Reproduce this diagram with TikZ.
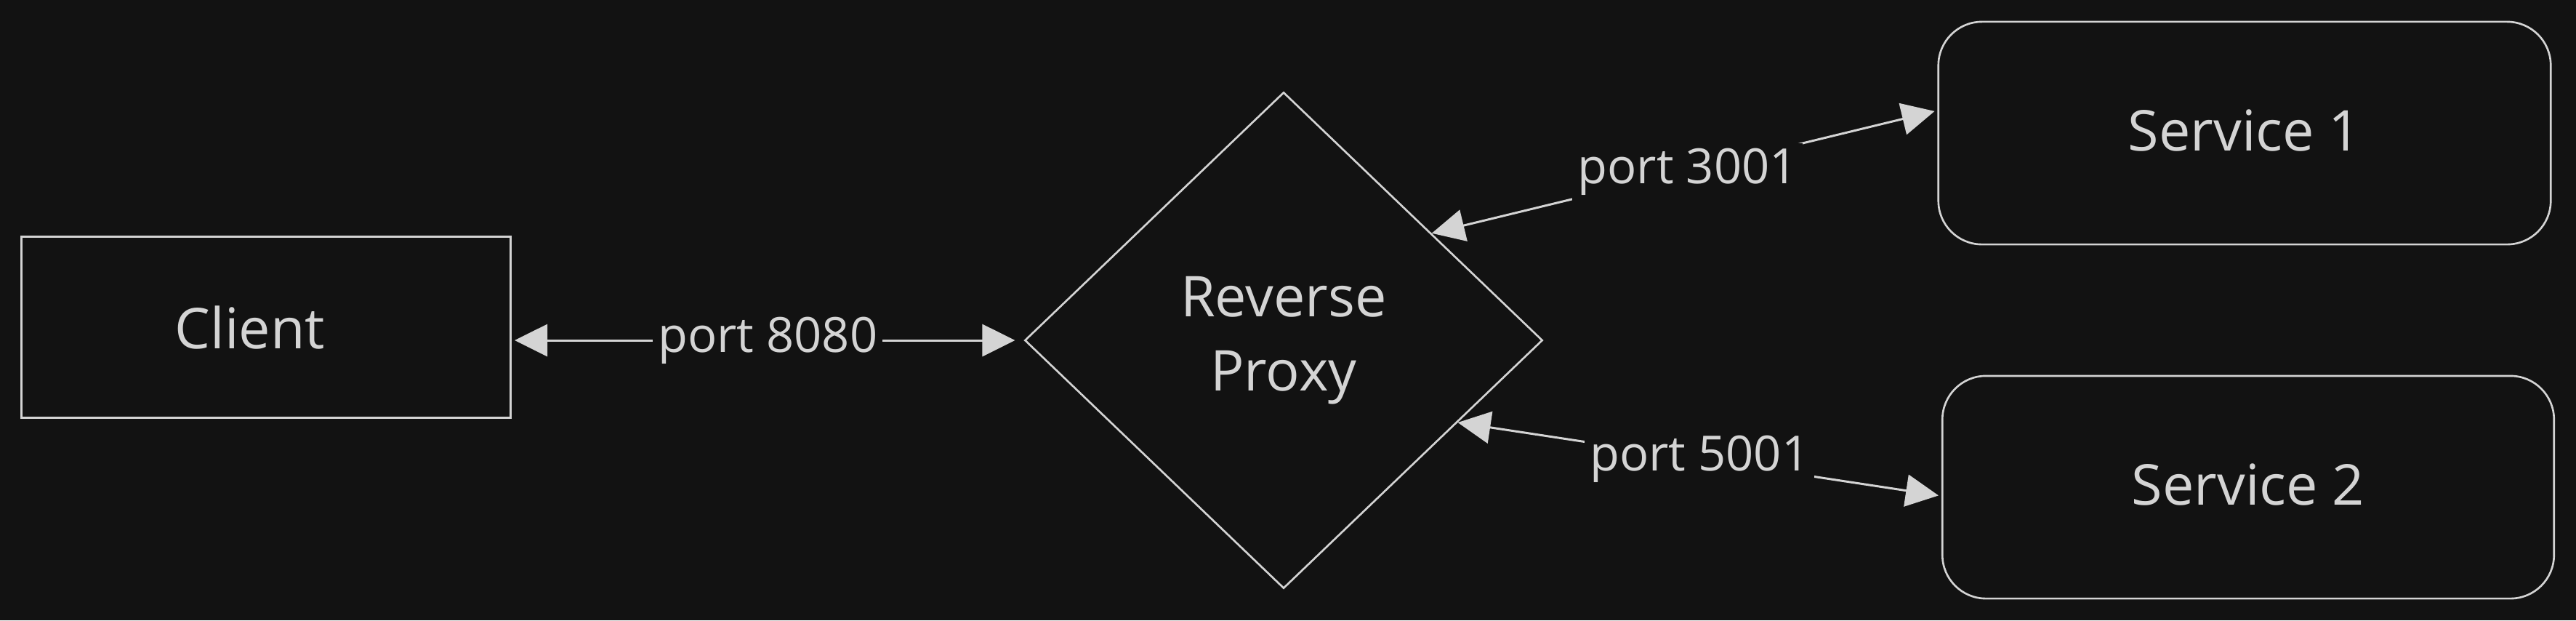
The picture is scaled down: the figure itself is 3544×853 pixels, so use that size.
\documentclass[tikz,border=0pt]{standalone}
\usepackage{fontspec}
\setmainfont{Open Sans}
\usetikzlibrary{shapes.geometric,arrows.meta,calc}
\definecolor{bg}{HTML}{121212}
\definecolor{ink}{HTML}{D4D4D4}
\begin{document}
\begin{tikzpicture}[x=0.01cm,y=-0.01cm,
  shapebox/.style={draw=ink,line width=0.75pt,text=ink,font=\fontsize{22}{29}\selectfont,inner sep=0pt,align=center},
  conn/.style={draw=ink,line width=0.85pt,{Triangle[length=0.45cm,width=0.44cm]}-{Triangle[length=0.45cm,width=0.44cm]}},
  portlabel/.style={fill=bg,text=ink,font=\fontsize{19}{22}\selectfont,inner sep=2pt}]
\path[use as bounding box,fill=bg] (0,0) rectangle (3544,853);

\node[shapebox,rectangle,minimum width=6.73cm,minimum height=2.49cm] (client) at (366,450) {\hspace*{-0.44cm}Client};
\node[shapebox,diamond,minimum width=7.12cm,minimum height=6.82cm] (proxy) at (1766,468) {\raisebox{0.06cm}{Reverse}\\\raisebox{0.06cm}{Proxy}};
\node[shapebox,rectangle,rounded corners=0.6cm,minimum width=8.42cm,minimum height=3.06cm] (s1) at (3088,183) {\raisebox{0.08cm}{Service 1}};
\node[shapebox,rectangle,rounded corners=0.6cm,minimum width=8.41cm,minimum height=3.06cm] (s2) at (3093,670) {\raisebox{0.08cm}{Service 2}};

\coordinate (p3001) at ($(proxy.north)!0.57!(proxy.east)$);
\coordinate (p5001) at ($(proxy.east)!0.33!(proxy.south)$);
\coordinate (s1in) at ([yshift=0.31cm]s1.west);
\coordinate (s2in) at ([yshift=-0.12cm]s2.west);

\draw[conn,shorten <=0.04cm,shorten >=0.12cm] (client.east |- proxy.west) -- node[portlabel] {port 8080} (proxy.west);
\draw[conn,shorten >=0.04cm] (p3001) -- node[portlabel,xshift=0.04cm] {port 3001} (s1in);
\draw[conn,shorten >=0.04cm] (p5001) -- node[portlabel] {port 5001} (s2in);
\end{tikzpicture}
\end{document}
